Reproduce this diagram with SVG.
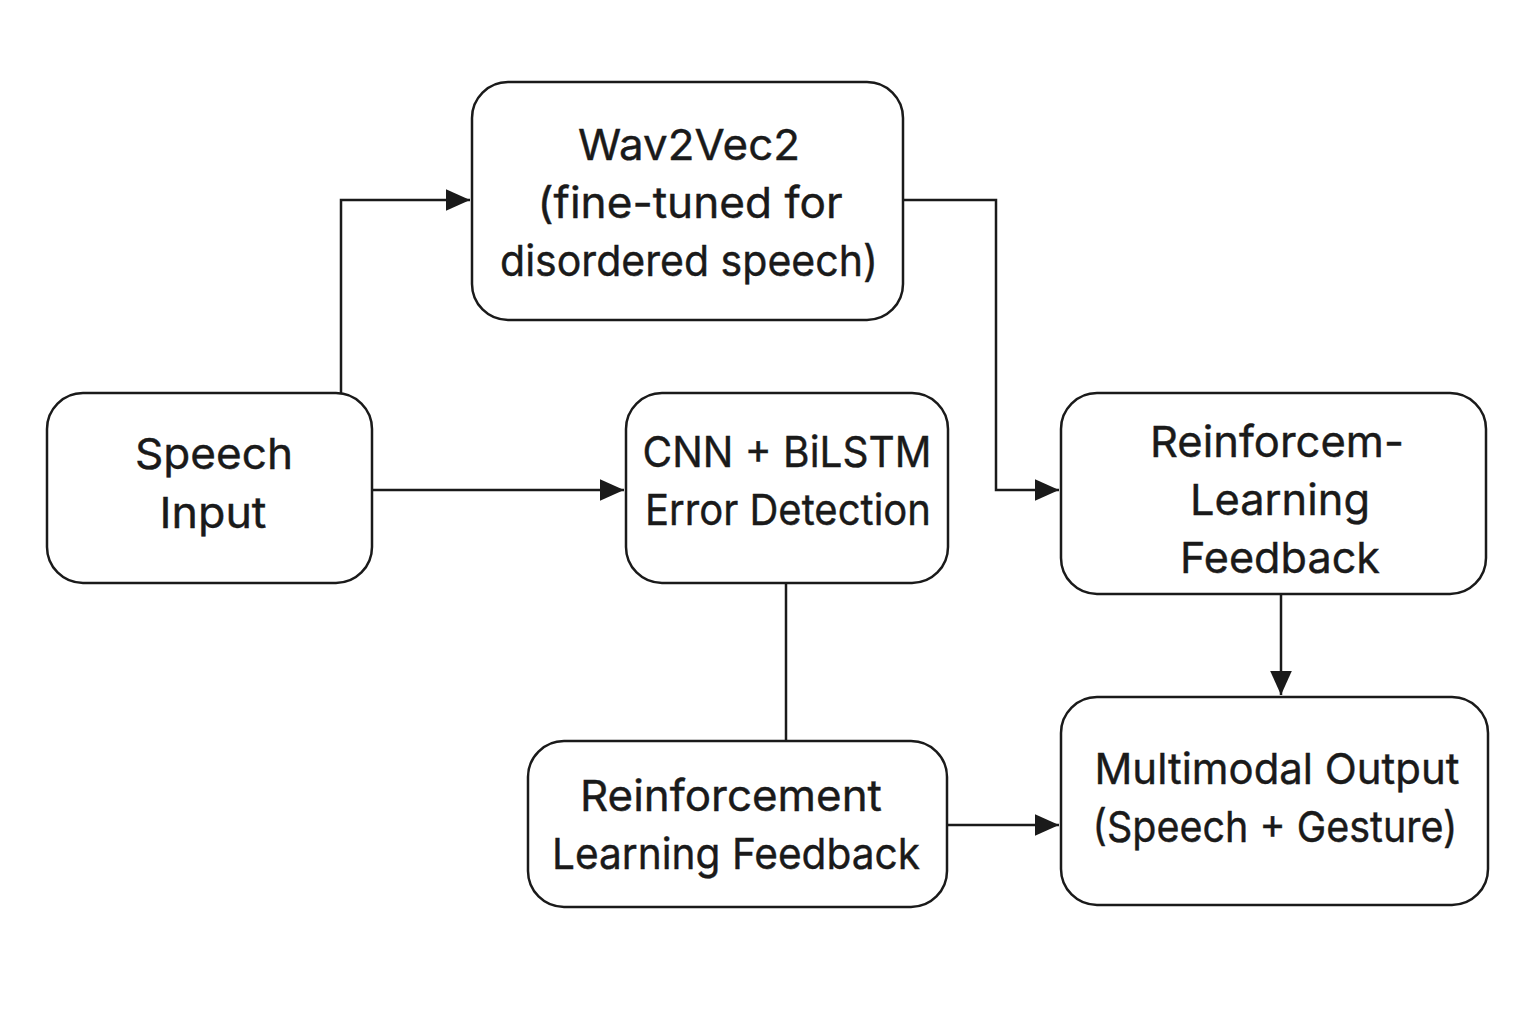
<svg xmlns="http://www.w3.org/2000/svg" width="1536" height="1024" viewBox="0 0 1536 1024">
<style>
.box{fill:#fff;stroke:#1a1a1a;stroke-width:2.5}
.lbl{font-family:Inter,"Noto Sans","Liberation Sans",sans-serif;font-size:43px;fill:#1a1a1a;text-anchor:middle;stroke:#1a1a1a;stroke-width:0.4}
.con{fill:none;stroke:#1a1a1a;stroke-width:2.5}
</style>
<defs>
<marker id="ah" viewBox="0 0 20 20" refX="20" refY="10" markerWidth="24" markerHeight="24" markerUnits="userSpaceOnUse" orient="auto">
<path d="M0,1 L20,10 L0,19 Z" fill="#1a1a1a"/>
</marker>
</defs>
<rect width="1536" height="1024" fill="#fff"/>
<g id="connectors">
<path class="con" d="M341,393 V200 H470" marker-end="url(#ah)"/>
<path class="con" d="M372,490 H624" marker-end="url(#ah)"/>
<path class="con" d="M903,200 H996 V490 H1059" marker-end="url(#ah)"/>
<path class="con" d="M1281,594 V695" marker-end="url(#ah)"/>
<path class="con" d="M786,583 V741"/>
<path class="con" d="M947,825 H1059" marker-end="url(#ah)"/>
</g>
<g id="wav2vec2">
<rect class="box" x="472" y="82" width="431" height="238" rx="36"/>
<text class="lbl" x="689" y="160" textLength="222" lengthAdjust="spacingAndGlyphs">Wav2Vec2</text>
<text class="lbl" x="690" y="218" textLength="305" lengthAdjust="spacingAndGlyphs">(fine-tuned for</text>
<text class="lbl" x="689" y="276" textLength="378" lengthAdjust="spacingAndGlyphs">disordered speech)</text>
</g>
<g id="speech-input">
<rect class="box" x="47" y="393" width="325" height="190" rx="36"/>
<text class="lbl" x="214" y="469" textLength="158" lengthAdjust="spacingAndGlyphs">Speech</text>
<text class="lbl" x="213" y="528" textLength="107" lengthAdjust="spacingAndGlyphs">Input</text>
</g>
<g id="cnn-bilstm">
<rect class="box" x="626" y="393" width="322" height="190" rx="36"/>
<text class="lbl" x="787" y="467" textLength="289" lengthAdjust="spacingAndGlyphs">CNN + BiLSTM</text>
<text class="lbl" x="788" y="525" textLength="286" lengthAdjust="spacingAndGlyphs">Error Detection</text>
</g>
<g id="rl-feedback-right">
<rect class="box" x="1061" y="393" width="425" height="201" rx="36"/>
<text class="lbl" x="1277" y="457" textLength="254" lengthAdjust="spacingAndGlyphs">Reinforcem-</text>
<text class="lbl" x="1280" y="515" textLength="180" lengthAdjust="spacingAndGlyphs">Learning</text>
<text class="lbl" x="1280" y="573" textLength="200" lengthAdjust="spacingAndGlyphs">Feedback</text>
</g>
<g id="multimodal-output">
<rect class="box" x="1061" y="697" width="427" height="208" rx="36"/>
<text class="lbl" x="1277" y="784" textLength="365" lengthAdjust="spacingAndGlyphs">Multimodal Output</text>
<text class="lbl" x="1275" y="842" textLength="365" lengthAdjust="spacingAndGlyphs">(Speech + Gesture)</text>
</g>
<g id="rl-feedback-bottom">
<rect class="box" x="528" y="741" width="419" height="166" rx="36"/>
<text class="lbl" x="731" y="811" textLength="302" lengthAdjust="spacingAndGlyphs">Reinforcement</text>
<text class="lbl" x="736" y="869" textLength="368" lengthAdjust="spacingAndGlyphs">Learning Feedback</text>
</g>
</svg>
